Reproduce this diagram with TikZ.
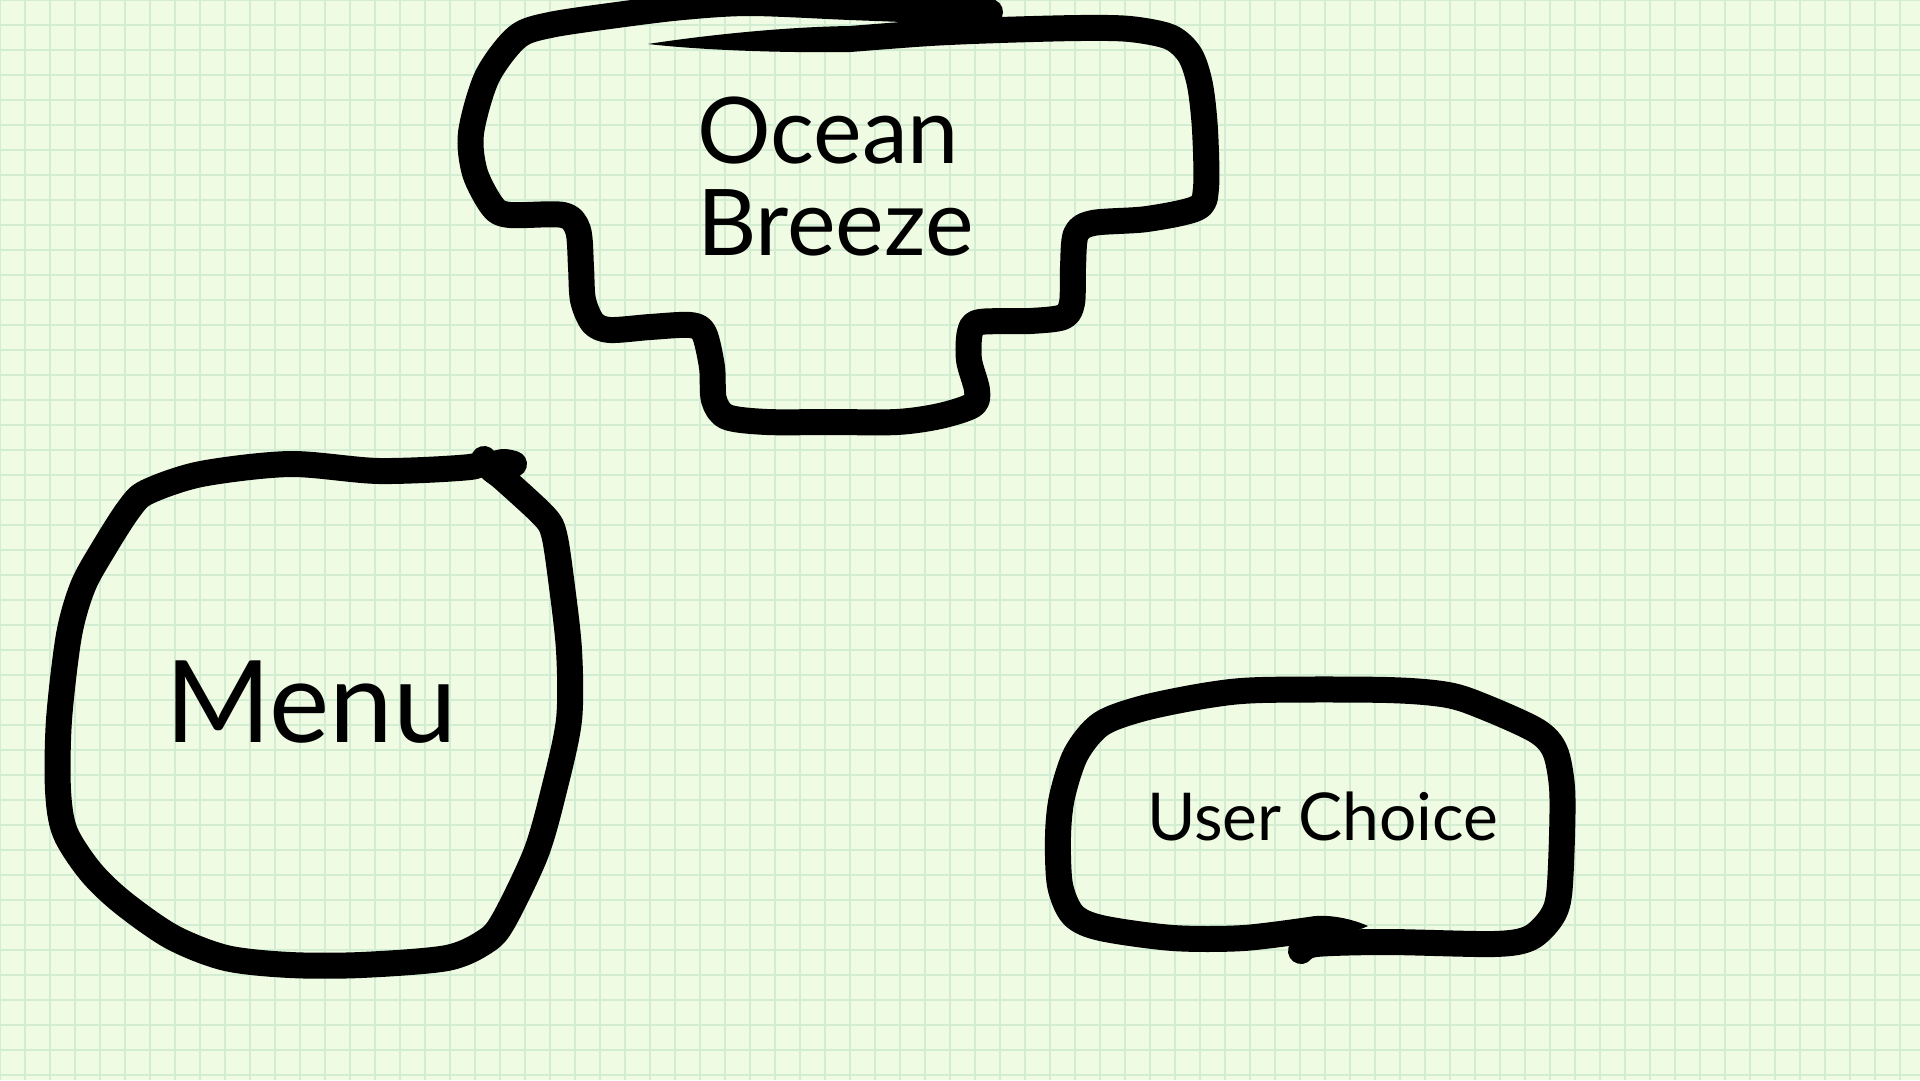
\documentclass[tikz,border=0pt]{standalone}
\usepackage{fontspec}
\setmainfont{Lato}
\usepackage{tikz}
\definecolor{paper}{HTML}{F0FBE3}
\definecolor{gridline}{HTML}{D3EDD2}
\tikzstyle{penline} = [draw=black, line width=26pt, line cap=round, line join=round]
\tikzstyle{pentail} = [fill=black]
\tikzstyle{penlabel} = [inner sep=0pt, text=black]

\begin{document}
\begin{tikzpicture}[x=1pt, y=-1pt]
                % paper and grid
                \useasboundingbox (0,0) rectangle (1920,1080);
                \fill[paper] (0,0) rectangle (1920,1080);
                \foreach \gx in {0,25,...,1920}
                    \draw[gridline, line width=2pt] (\gx,0) -- (\gx,1080);
                \foreach \gy in {0,25,...,1080}
                    \draw[gridline, line width=2pt] (0,\gy) -- (1920,\gy);
                % ocean breeze blob
                \fill[pentail] (648,44) .. controls (700,36) and (780,27) .. (850,26)
                    -- (850,52) .. controls (780,53) and (700,50) .. (648,44) -- cycle;
                \draw[penline] plot[smooth, tension=0.5] coordinates {
                    (850,39) (930,33) (1000,30) (1080,28) (1130,29)
                    (1170,37) (1190,55) (1200,85) (1205,130) (1206,188) (1197,208)
                    (1147,219) (1093,223) (1076,234) (1073,267) (1072,303) (1063,317)
                    (1030,321) (980,322) (970,332) (969,360) (977,390) (973,405)
                    (940,416) (897,422) (830,422) (767,422) (727,417) (714,400)
                    (712,367) (704,333) (690,325) (650,327) (610,330) (593,323)
                    (583,300) (581,267) (578,230) (563,215) (510,215) (493,207)
                    (475,173) (471,133) (487,77) (517,37) (550,25) (617,15)
                    (683,7) (750,3) (850,7) (930,10) (990,12)};
                \node[penlabel, align=left, anchor=base west,
                    font=\fontsize{92}{92}\selectfont] (ocean) at (697,255) {Ocean\\Breeze};
                % menu blob
                \draw[penline] plot[smooth, tension=0.5] coordinates {
                    (484,459) (470,467) (379,471) (290,464) (201,474)
                    (147,492) (129,509) (104,548) (83,586) (69,635)
                    (59,720) (58,790) (65,832) (90,871) (122,902)
                    (172,937) (226,958) (290,965) (361,965) (447,958)
                    (486,941) (504,920) (536,853) (554,790) (569,720)
                    (569,650) (561,579) (554,534) (544,516) (504,479)
                    (490,467) (503,462) (514,464)};
                \node[penlabel, anchor=base west,
                    font=\fontsize{114}{114}\selectfont] (menu) at (165,742) {Menu};
                % user choice blob
                \fill[pentail] (1368,926) .. controls (1350,918) and (1330,915) .. (1316,916)
                    -- (1316,942) .. controls (1330,939) and (1350,934) .. (1368,926) -- cycle;
                \draw[penline] plot[smooth, tension=0.5] coordinates {
                    (1316,929) (1244,938) (1173,938) (1101,928)
                    (1073,915) (1060,885) (1058,836) (1062,797) (1076,754)
                    (1101,724) (1144,708) (1209,695) (1262,690) (1387,690)
                    (1448,695) (1487,708) (1537,731) (1555,751) (1562,787)
                    (1562,836) (1559,895) (1551,918) (1530,938) (1494,944)
                    (1387,942) (1316,944) (1301,951)};
                \node[penlabel, anchor=base west,
                    font=\fontsize{66}{66}\selectfont] (choice) at (1147,840) {User Choice};
            \end{tikzpicture}
\end{document}
